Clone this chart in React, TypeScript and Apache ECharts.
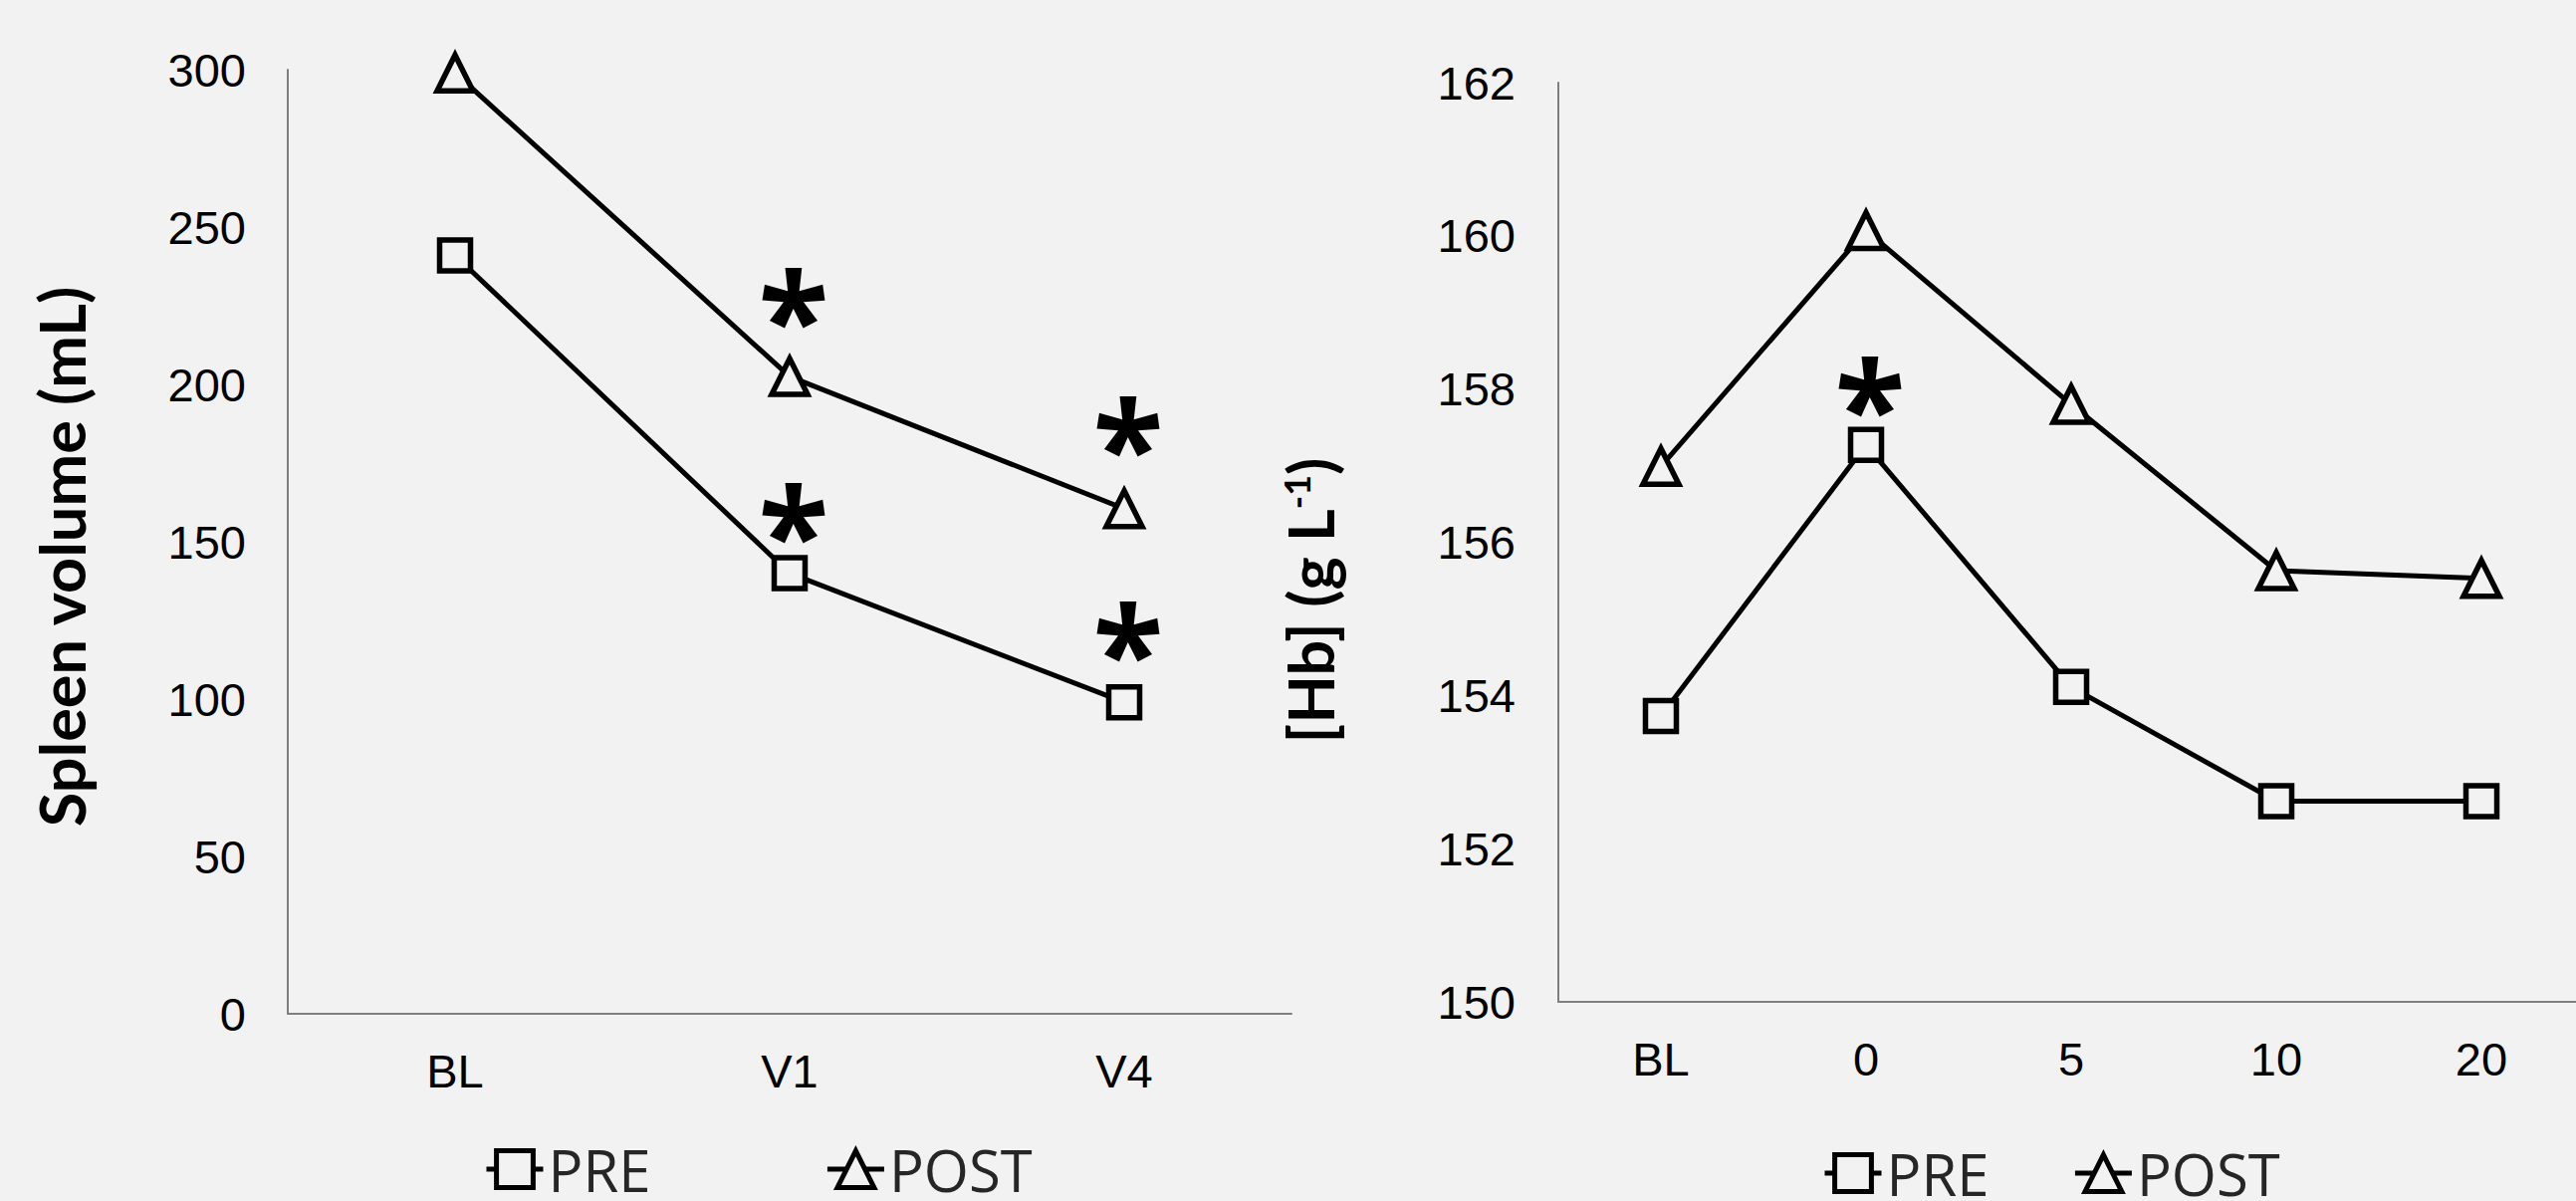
import React, { useEffect, useRef } from 'react';
import * as echarts from 'echarts';

// ---------- data ----------
const seriesNames = ['PRE', 'POST'];

const spleenCategories = ['BL', 'V1', 'V4'];
const spleenPre = [241, 140, 99];
const spleenPost = [299, 202.5, 160.5];
const spleenStarCategories = ['V1', 'V1', 'V4', 'V4'];
const spleenStarValues = [226.6, 158.5, 185.8, 120.6];

const hbCategories = ['BL', '0', '5', '10', '20'];
const hbPre = [153.73, 157.27, 154.11, 152.62, 152.62];
const hbPost = [156.99, 160.07, 157.8, 155.63, 155.53];
const hbStarCategories = ['0'];
const hbStarValues = [158.0];

// ---------- styles ----------
const BG = '#f2f2f2';
const AXIS_LINE = { color: '#7f7f7f', width: 2 };
const TICK_FONT = "'Liberation Sans', Arial, sans-serif";
const TITLE_FONT = "Lato, 'Open Sans', sans-serif";
const LEGEND_FONT = "'Open Sans', 'Noto Sans', sans-serif";
const STAR_FONT = "'Noto Sans', 'Open Sans', sans-serif";

function lineSeries(name: string, data: number[], idx: number, symbol: string, size: number) {
  return {
    type: 'line',
    name,
    xAxisIndex: idx,
    yAxisIndex: idx,
    data,
    symbol,
    symbolSize: size,
    lineStyle: { color: '#000', width: 5 },
    itemStyle: { color: BG, borderColor: '#000', borderWidth: 5.5 },
    z: 3,
  };
}

function starSeries(cats: string[], values: number[], idx: number) {
  return {
    type: 'scatter',
    xAxisIndex: idx,
    yAxisIndex: idx,
    data: cats.map((c, i) => [c, values[i]]),
    symbolSize: 1,
    itemStyle: { color: 'rgba(0,0,0,0)', opacity: 1 },
    silent: true,
    z: 4,
    label: {
      show: true,
      position: 'inside',
      formatter: '*',
      fontFamily: STAR_FONT,
      fontWeight: 'bold',
      fontSize: 130,
      color: '#000',
      opacity: 1,
      textBorderWidth: 0,
      offset: [4, 15],
    },
  };
}

function legend(left: number, top: number, gap: number) {
  return {
    data: seriesNames,
    left,
    top,
    padding: 0,
    itemWidth: 57,
    itemHeight: 46,
    itemGap: gap,
    selectedMode: false,
    lineStyle: { width: 5 },
    itemStyle: { borderWidth: 5 },
    textStyle: {
      fontFamily: LEGEND_FONT,
      fontSize: 58,
      color: '#262626',
    },
  };
}

const xAxisBase = (gridIndex: number, data: string[]) => ({
  type: 'category',
  gridIndex,
  data,
  boundaryGap: true,
  axisLine: { show: true, lineStyle: AXIS_LINE },
  axisTick: { show: false },
  splitLine: { show: false },
  axisLabel: { margin: 34, fontSize: 47, color: '#000', fontFamily: TICK_FONT },
});

export default function App() {
  const ref = useRef<HTMLDivElement>(null);
  useEffect(() => {
    if (!ref.current) return;
    const chart = echarts.init(ref.current, undefined, { renderer: 'svg' });
    const option = {
      animation: false,
      backgroundColor: BG,
      grid: [
        { left: 289, top: 70, width: 1008, height: 948, outerBoundsMode: 'none', containLabel: false },
        { left: 1565, top: 83, width: 1030, height: 923, outerBoundsMode: 'none', containLabel: false },
      ],
      xAxis: [xAxisBase(0, spleenCategories), xAxisBase(1, hbCategories)],
      yAxis: [
        {
          type: 'value',
          gridIndex: 0,
          min: 0,
          max: 300,
          interval: 50,
          axisLine: { show: true, lineStyle: AXIS_LINE },
          axisTick: { show: false },
          splitLine: { show: false },
          axisLabel: { margin: 42, fontSize: 47, color: '#000', fontFamily: TICK_FONT },
          name: 'Spleen volume (mL)',
          nameLocation: 'middle',
          nameRotate: 90,
          nameGap: 196,
          nameTextStyle: {
            fontFamily: TITLE_FONT,
            fontWeight: 'bold',
            fontSize: 63,
            color: '#000',
            padding: [0, 30, 0, 0],
          },
        },
        {
          type: 'value',
          gridIndex: 1,
          min: 150,
          max: 162,
          interval: 2,
          axisLine: { show: true, lineStyle: AXIS_LINE },
          axisTick: { show: false },
          splitLine: { show: false },
          axisLabel: { margin: 43, fontSize: 47, color: '#000', fontFamily: TICK_FONT },
          name: '[Hb] (g L{sup|-1})',
          nameLocation: 'middle',
          nameRotate: 90,
          nameGap: 218,
          nameTextStyle: {
            fontFamily: TITLE_FONT,
            fontWeight: 'bold',
            fontSize: 63,
            color: '#000',
            padding: [0, 117, 0, 0],
            rich: {
              sup: {
                fontFamily: TITLE_FONT,
                fontWeight: 'bold',
                fontSize: 36,
                color: '#000',
                verticalAlign: 'top',
              },
            },
          },
        },
      ],
      legend: [legend(486, 1145, 175), legend(1830, 1149, 84)],
      series: [
        lineSeries('PRE', spleenPre, 0, 'rect', 31),
        lineSeries('POST', spleenPost, 0, 'triangle', 36),
        starSeries(spleenStarCategories, spleenStarValues, 0),
        lineSeries('PRE', hbPre, 1, 'rect', 31),
        lineSeries('POST', hbPost, 1, 'triangle', 36),
        starSeries(hbStarCategories, hbStarValues, 1),
      ],
    };
    chart.setOption(option as any);
    return () => chart.dispose();
  }, []);
  return (
    <div
      ref={ref}
      style={{ position: 'fixed', left: 0, top: 0, width: 2587, height: 1206 }}
    />
  );
}
